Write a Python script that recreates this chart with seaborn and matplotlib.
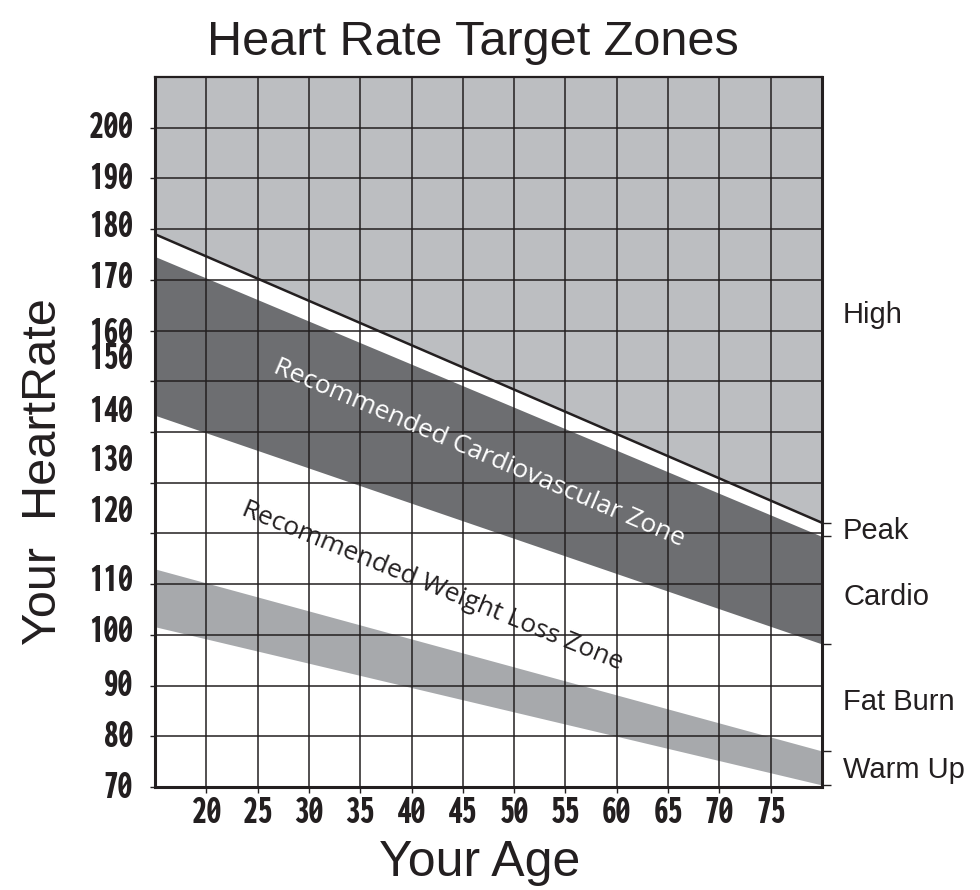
import matplotlib
matplotlib.use('Agg')
import matplotlib.pyplot as plt
import matplotlib.transforms as mtransforms
from matplotlib import font_manager
import seaborn as sns
import pandas as pd

# Data (age in years, heart rate in bpm)
ages = [15, 80]
max_hr = [179.0, 122.1]
cardio_upper = [174.6, 119.4]
cardio_lower = [143.3, 98.2]
fatburn_upper = [113.0, 77.1]
fatburn_lower = [101.6, 70.4]

x_ticks = [20, 25, 30, 35, 40, 45, 50, 55, 60, 65, 70, 75]
y_grid = [70, 80, 90, 100, 110, 120, 130, 140, 150, 160, 170, 180, 190, 200]
# the printed labels sit a little off their grid lines in the original
y_labels = ["200", "190", "180", "170", "160", "150", "140", "130", "120", "110", "100", "90", "80", "70"]
y_label_at = [200, 190, 180.5, 170.4, 159.5, 154.4, 144, 134.3, 124.3, 110.7, 100.6, 90, 80, 70]

zone_names = ["High", "Peak", "Cardio", "Fat Burn", "Warm Up"]
zone_label_at = [163, 120.4, 107.5, 86.8, 73.3]

INK = "#231f20"
HIGH_GRAY = "#bcbec1"
DARK_GRAY = "#6d6e71"
LIGHT_GRAY = "#a7a9ac"


def pick_condensed_bold():
    """Find the narrowest heavy face that is installed (tick labels look like Impact)."""
    prefs = [("extracondensedblack", 30), ("extracondensedextrabold", 30), ("extracondensedbold", 30),
             ("condensedblack", 22), ("condensedextrabold", 22), ("condensedbold", 22),
             ("condensed-bold", 22), ("narrow-bold", 22), ("narrowbold", 22)]
    files = [f.fname for f in font_manager.fontManager.ttflist]
    for key, size in prefs:
        hits = sorted(fn for fn in files
                      if key in fn.lower().replace("_", "") and "italic" not in fn.lower()
                      and "oblique" not in fn.lower() and "semicondensed" not in fn.lower()
                      and "mono" not in fn.lower() and "serif" not in fn.lower())
        if key == "condensedbold":
            hits = [h for h in hits if "extracondensed" not in h.lower()]
        if hits:
            return font_manager.FontProperties(fname=hits[0], size=size)
    return font_manager.FontProperties(family='Liberation Sans', weight='bold', size=20)


sns.set_style("white")
plt.rcParams['font.family'] = ['Liberation Sans', 'DejaVu Sans']

tick_font = pick_condensed_bold()

df = pd.DataFrame({"age": ages, "max_hr": max_hr})

fig = plt.figure(figsize=(9.8, 8.9), dpi=100)
ax = fig.add_axes([155 / 980, 1 - 787 / 890, 667 / 980, 710 / 890])

# zones
ax.fill_between(ages, max_hr, 210, color=HIGH_GRAY, lw=0, zorder=1)
ax.fill_between(ages, cardio_lower, cardio_upper, color=DARK_GRAY, lw=0, zorder=1)
ax.fill_between(ages, fatburn_lower, fatburn_upper, color=LIGHT_GRAY, lw=0, zorder=1)
sns.lineplot(data=df, x="age", y="max_hr", color=INK, lw=1.8, ax=ax, zorder=3)

ax.set_xlim(15, 80)
ax.set_ylim(70, 210)
ax.set_xlabel("")
ax.set_ylabel("")

ax.set_xticks(x_ticks)
ax.set_xticklabels(x_ticks)
for lab in ax.get_xticklabels():
    lab.set_fontproperties(tick_font)
    lab.set_color(INK)
ax.set_yticks(y_grid)
ax.set_yticklabels([])
ax.tick_params(axis='y', which='major', length=3.5, width=1, color=INK, left=True)
ax.tick_params(axis='x', which='major', length=4, width=1, color=INK, pad=2, bottom=True)

# y labels drawn at their own (slightly shifted) heights
ylab_tf = mtransforms.blended_transform_factory(ax.transAxes, ax.transData)
for txt, yv in zip(y_labels, y_label_at):
    ax.text(-0.033, yv, txt, transform=ylab_tf, ha='right', va='center',
            fontproperties=tick_font, color=INK, clip_on=False)

ax.grid(True, which='major', color=INK, lw=1.1)
ax.set_axisbelow(False)
for side in ["left", "bottom", "right"]:
    ax.spines[side].set_linewidth(2.2)
    ax.spines[side].set_color(INK)
ax.spines["top"].set_linewidth(1.6)
ax.spines["top"].set_color(INK)

# zone boundary ticks on the right edge
right = ax.twinx()
right.set_ylim(ax.get_ylim())
right.set_yticks([max_hr[-1], cardio_upper[-1], cardio_lower[-1], fatburn_upper[-1], fatburn_lower[-1]])
right.set_yticklabels([])
right.tick_params(axis='y', length=6.5, width=1, color=INK, right=True)
for sp in right.spines.values():
    sp.set_visible(False)

zone_tf = mtransforms.blended_transform_factory(fig.transFigure, ax.transData)
for name, yv in zip(zone_names, zone_label_at):
    ax.text(843 / 980, yv, name, transform=zone_tf,
            fontsize=21, color=INK, va='center', ha='left', clip_on=False)

ax.text(26.4, 151.8, "Recommended Cardiovascular Zone", rotation=-23.1, rotation_mode='anchor',
        ha='left', va='baseline', fontsize=19, color='white', family=['Open Sans', 'DejaVu Sans'], zorder=4)
ax.text(23.3, 123.7, "Recommended Weight Loss Zone", rotation=-22.3, rotation_mode='anchor',
        ha='left', va='baseline', fontsize=19, color=INK, family=['Open Sans', 'DejaVu Sans'], zorder=4)

fig.text(473 / 980, 1 - 55 / 890, "Heart Rate Target Zones", ha='center', va='baseline',
         fontsize=35, color=INK)
fig.text(480 / 980, 1 - 876 / 890, "Your Age", ha='center', va='baseline', fontsize=36, color=INK)
fig.text(44 / 980, 1 - 472 / 890, "Your  HeartRate", rotation=90, ha='center', va='center',
         fontsize=35, color=INK)

fig.savefig("out.png", dpi=100)
